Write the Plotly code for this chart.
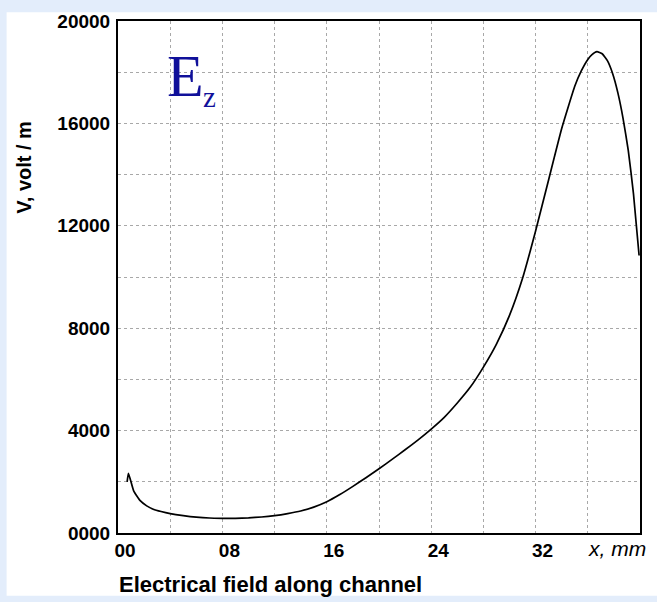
import plotly.graph_objects as go

# Axial electric field along the channel
x_mm = [0.70, 0.80, 1.2, 1.7, 2.2, 2.7, 3.3, 4.0, 5.0, 6.0, 7.0, 8.0, 9.0, 10.0,
        11.0, 12.0, 13.0, 14.0, 15.0, 16.0, 17.0, 18.0, 19.0, 20.0, 21.0, 22.0,
        23.0, 24.0, 25.0, 26.0, 27.0, 28.0, 29.0, 30.0, 31.0, 32.0, 33.0, 34.0,
        35.0, 35.5, 36.0, 36.3, 36.7, 37.1, 37.5, 37.9, 38.3, 38.7, 39.1, 39.5,
        39.93]
ez_volt_m = [2000, 2330, 1645, 1262, 1060, 930, 840, 760, 680, 620, 585, 575, 575, 590,
             625, 680, 760, 860, 1010, 1220, 1500, 1820, 2160, 2510, 2875, 3250,
             3640, 4060, 4520, 5080, 5700, 6480, 7380, 8500, 9950, 11800, 13800, 15800,
             17450, 18050, 18500, 18680, 18800, 18720, 18450, 17950, 17200, 16200, 14950, 13250,
             10840]

# Axis ticks (grid every step, labels every other step)
x_tickvals = [0, 4, 8, 12, 16, 20, 24, 28, 32, 36]
x_ticktext = ["00", "", "08", "", "16", "", "24", "", "32", ""]
y_tickvals = [0, 2000, 4000, 6000, 8000, 10000, 12000, 14000, 16000, 18000, 20000]
y_ticktext = ["0000", "", "4000", "", "8000", "", "12000", "", "16000", "", "20000"]

W, H = 657, 602
L, R, T, B = 117.5, 17, 11, 69
pw, ph = W - L - R, H - T - B


def px_x(px):
    return (px - L) / pw


def px_y(py):
    return (H - B - py) / ph


def bold(labels):
    return [f"<b>{t}</b>" if t else "" for t in labels]


fig = go.Figure()
fig.add_trace(go.Scatter(x=x_mm, y=ez_volt_m, mode="lines",
                         line=dict(color="black", width=1.7, shape="spline", smoothing=0.4),
                         hoverinfo="skip", showlegend=False))

tick_font = dict(family="Liberation Sans, Arial, sans-serif", size=19, color="black")
grid_common = dict(showgrid=True, gridcolor="#a8a8a8", gridwidth=1, griddash="dot",
                   showline=True, linecolor="black", linewidth=2, mirror=True,
                   ticks="", zeroline=False, tickfont=tick_font)

fig.update_xaxes(range=[0, 40], tickvals=x_tickvals, ticktext=bold(x_ticktext),
                 ticklabelshift=7, ticklabelstandoff=-1, **grid_common)
fig.update_yaxes(range=[0, 20000], tickvals=y_tickvals, ticktext=bold(y_ticktext),
                 ticklabelstandoff=2, **grid_common)

serif = "Liberation Serif, Times New Roman, serif"
fig.update_layout(
    width=W, height=H,
    margin=dict(l=L, r=R, t=T, b=B, pad=0),
    paper_bgcolor="#e3edfb",
    plot_bgcolor="white",
    font=dict(family="Liberation Sans, Arial, sans-serif", color="black"),
    shapes=[dict(type="rect", xref="paper", yref="paper", layer="below",
                 x0=px_x(6), x1=px_x(720), y0=px_y(597), y1=px_y(2),
                 fillcolor="white", line=dict(width=0))],
    annotations=[
        dict(text="<b>V, volt / m</b>", xref="paper", yref="paper",
             x=px_x(24), y=px_y(160), textangle=-90, showarrow=False,
             xanchor="center", yanchor="middle",
             font=dict(size=20, family="Liberation Sans, Arial, sans-serif")),
        dict(text="<b>Electrical field along channel</b>", xref="paper", yref="paper",
             x=px_x(116), y=px_y(585), showarrow=False,
             xanchor="left", yanchor="middle",
             font=dict(size=22, family="Liberation Sans, Arial, sans-serif")),
        dict(text="<i>x, mm</i>", xref="paper", yref="paper",
             x=px_x(586), y=px_y(549), showarrow=False,
             xanchor="left", yanchor="middle",
             font=dict(size=21, family="Liberation Sans, Arial, sans-serif")),
        dict(text="E", xref="paper", yref="paper",
             x=px_x(205), y=px_y(67), showarrow=False,
             xanchor="right", yanchor="middle", borderpad=0,
             font=dict(size=60, family=serif, color="#10109a")),
        dict(text="z", xref="paper", yref="paper",
             x=px_x(202), y=px_y(88), showarrow=False,
             xanchor="left", yanchor="middle", borderpad=0,
             font=dict(size=29, family=serif, color="#10109a")),
    ],
)

fig.write_html("out.html")
